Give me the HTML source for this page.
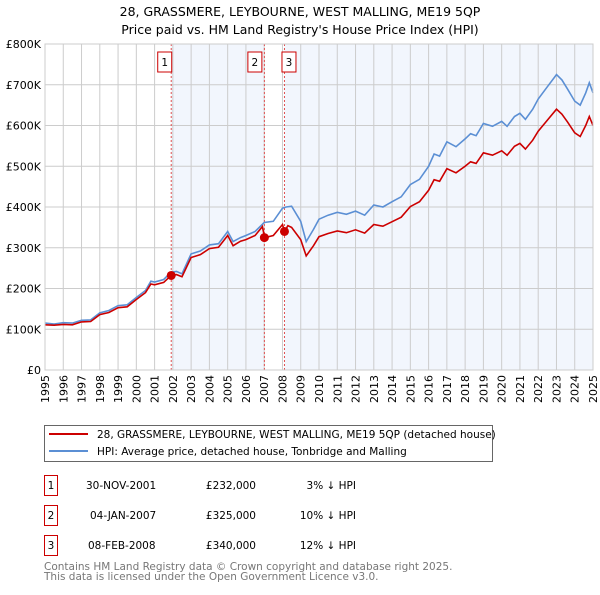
<!DOCTYPE html>
<html><head><meta charset="utf-8"><style>
body{margin:0;background:#fff;font-family:"Liberation Sans","DejaVu Sans",sans-serif;}
svg text{font-family:"DejaVu Sans","Liberation Sans",sans-serif;}
</style></head><body>
<svg id="c" width="600" height="590" xmlns="http://www.w3.org/2000/svg">
<text x="300" y="16" text-anchor="middle" font-size="12.5" fill="#000">28, GRASSMERE, LEYBOURNE, WEST MALLING, ME19 5QP</text>
<text x="300" y="34" text-anchor="middle" font-size="12.5" fill="#000">Price paid vs. HM Land Registry's House Price Index (HPI)</text>
<g id="plot"></g>
<g>
<rect x="44.5" y="425.5" width="448" height="36" fill="#fff" stroke="#666"/>
<line x1="49" y1="434" x2="88" y2="434" stroke="#cc0000" stroke-width="2"/>
<text x="97" y="438" font-size="10.5">28, GRASSMERE, LEYBOURNE, WEST MALLING, ME19 5QP (detached house)</text>
<line x1="49" y1="451" x2="88" y2="451" stroke="#5b8fd4" stroke-width="2"/>
<text x="97" y="455" font-size="10.5">HPI: Average price, detached house, Tonbridge and Malling</text>
</g>
<g font-size="10.5">
<rect x="44.5" y="475.5" width="13" height="20" fill="none" stroke="#cc0000"/><text x="51" y="489" text-anchor="middle">1</text>
<text x="86" y="489">30-NOV-2001</text><text x="256" y="489" text-anchor="end">£232,000</text><text x="356" y="489" text-anchor="end">3% ↓ HPI</text>
<rect x="44.5" y="505.5" width="13" height="20" fill="none" stroke="#cc0000"/><text x="51" y="519" text-anchor="middle">2</text>
<text x="90" y="519">04-JAN-2007</text><text x="256" y="519" text-anchor="end">£325,000</text><text x="356" y="519" text-anchor="end">10% ↓ HPI</text>
<rect x="44.5" y="535.5" width="13" height="20" fill="none" stroke="#cc0000"/><text x="51" y="549" text-anchor="middle">3</text>
<text x="88" y="549">08-FEB-2008</text><text x="256" y="549" text-anchor="end">£340,000</text><text x="356" y="549" text-anchor="end">12% ↓ HPI</text>
</g>
<text x="44" y="570" font-size="10.5" fill="#777">Contains HM Land Registry data © Crown copyright and database right 2025.</text>
<text x="44" y="580" font-size="10.5" fill="#777">This data is licensed under the Open Government Licence v3.0.</text>
</svg>
<script>
const hpiYears=[1995,1995.5,1996,1996.5,1997,1997.5,1998,1998.5,1999,1999.5,2000,2000.5,2000.8,2001,2001.5,2001.9,2002.2,2002.5,2003,2003.5,2004,2004.5,2005,2005.3,2005.7,2006,2006.5,2007,2007.5,2008,2008.2,2008.5,2009,2009.3,2009.7,2010,2010.5,2011,2011.5,2012,2012.5,2013,2013.5,2014,2014.5,2015,2015.5,2016,2016.3,2016.6,2017,2017.5,2018,2018.3,2018.6,2019,2019.5,2020,2020.3,2020.7,2021,2021.3,2021.7,2022,2022.5,2023,2023.3,2023.6,2024,2024.3,2024.6,2024.8,2025];
const hpiValues=[115,113,116,115,122,123,140,146,158,160,178,195,218,216,222,240,242,236,285,292,307,310,340,315,325,330,340,362,365,397,400,402,365,315,345,370,380,387,382,390,380,405,400,413,425,455,468,500,530,525,560,548,567,580,575,605,598,610,598,622,630,615,640,665,695,725,712,690,660,650,680,705,680];
const redYears=[1995,1995.5,1996,1996.5,1997,1997.5,1998,1998.5,1999,1999.5,2000,2000.5,2000.8,2001,2001.5,2001.9,2002.2,2002.5,2003,2003.5,2004,2004.5,2005,2005.3,2005.7,2006,2006.5,2006.9,2007.02,2007.5,2008,2008.11,2008.3,2008.5,2009,2009.3,2009.7,2010,2010.5,2011,2011.5,2012,2012.5,2013,2013.5,2014,2014.5,2015,2015.5,2016,2016.3,2016.6,2017,2017.5,2018,2018.3,2018.6,2019,2019.5,2020,2020.3,2020.7,2021,2021.3,2021.7,2022,2022.5,2023,2023.3,2023.6,2024,2024.3,2024.6,2024.8,2025];
const redValues=[111,110,112,111,118,119,136,141,153,155,173,190,211,209,215,232,234,229,276,283,298,301,330,305,316,320,330,352,325,330,357,340,354,350,320,280,305,327,335,341,337,344,336,357,353,364,375,401,413,441,467,463,494,484,500,511,507,533,527,538,527,549,556,542,564,586,613,640,628,609,582,573,600,622,600];
const saleYears=[2001.91,2007.01,2008.11];
const salePrices=[232,325,340];
const saleLabels=["1","2","3"];
const yTicks=[0,100,200,300,400,500,600,700,800];
const yTickLabels=["£0","£100K","£200K","£300K","£400K","£500K","£600K","£700K","£800K"];
const xTicks=[1995,1996,1997,1998,1999,2000,2001,2002,2003,2004,2005,2006,2007,2008,2009,2010,2011,2012,2013,2014,2015,2016,2017,2018,2019,2020,2021,2022,2023,2024,2025];

const L=45,R=593,T=44,B=370;
const X=y=>L+(y-1995)/30*(R-L);
const Y=v=>B-v/800*(B-T);
const NS="http://www.w3.org/2000/svg";
const g=document.getElementById('plot');
function mk(tag,at){const e=document.createElementNS(NS,tag);for(const k in at)e.setAttribute(k,at[k]);g.appendChild(e);return e;}
let e;
e=mk('rect',{x:L,y:T,width:R-L,height:B-T,fill:'#fff'});


e=mk('rect',{x:X(saleYears[0]),y:T,width:X(saleYears[1])-X(saleYears[0]),height:B-T,fill:'#eef3fc',opacity:0.75});


e=mk('rect',{x:X(saleYears[2]),y:T,width:R-X(saleYears[2]),height:B-T,fill:'#eef3fc',opacity:0.75});


yTicks.forEach((v,i)=>{
 e=mk('line',{x1:L,x2:R,y1:Y(v),y2:Y(v),stroke:'#ccc','stroke-width':1});
 
 
 e=mk('text',{x:L-4,y:Y(v)+4,'text-anchor':'end','font-size':11});
 e.textContent=yTickLabels[i];
 
 
});
xTicks.forEach(t=>{
 e=mk('line',{x1:X(t),x2:X(t),y1:T,y2:B,stroke:'#ccc','stroke-width':1});
 
 
 e=mk('text',{x:0,y:0,'text-anchor':'end','font-size':11,transform:`translate(${X(t)+4},${B+5}) rotate(-90)`});
 e.textContent=t;
 
 
});
saleYears.forEach((s,i)=>{
 e=mk('line',{x1:X(s),x2:X(s),y1:T,y2:B,stroke:'#e05050','stroke-width':1,'stroke-dasharray':'2,2'});
 
 
 const bx=X(s)-(i==1?10:i==2?-4:7);
 e=mk('rect',{x:bx-6.5,y:T+8,width:14,height:20,fill:'#fff',stroke:'#cc0000'});
 
 
 e=mk('text',{x:bx+0.5,y:T+22,'text-anchor':'middle','font-size':10.5});
 e.textContent=saleLabels[i];
 
 
});
function path(xs,vs){return xs.map((x,i)=>(i?'L':'M')+X(x).toFixed(1)+','+Y(vs[i]).toFixed(1)).join('');}
e=mk('path',{d:path(hpiYears,hpiValues),fill:'none',stroke:'#5b8fd4','stroke-width':1.6});


e=mk('path',{d:path(redYears,redValues),fill:'none',stroke:'#cc0000','stroke-width':1.6});


saleYears.forEach((s,i)=>{
 e=mk('circle',{cx:X(s),cy:Y(salePrices[i]),r:4.5,fill:'#cc0000'});
 
 
});
e=mk('rect',{x:L,y:T,width:R-L,height:B-T,fill:'none',stroke:'#ccc'});


</script>
</body></html>
